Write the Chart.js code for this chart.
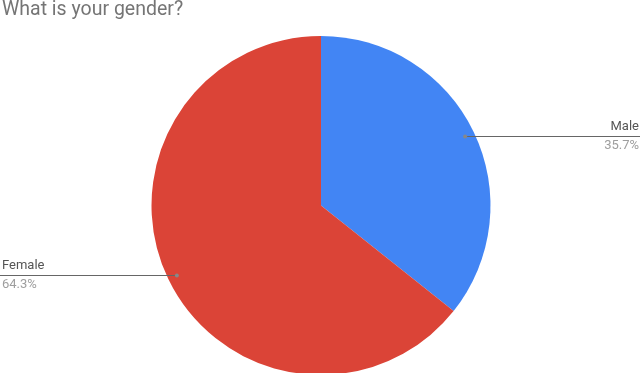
<!DOCTYPE html>
<html>
<head>
<meta charset="utf-8">
<script src="https://cdn.jsdelivr.net/npm/chart.js@4"></script>
<style>
html,body{margin:0;padding:0;background:#fff;overflow:hidden;width:640px;height:373px;}
#wrap{position:absolute;left:0;top:0;width:640px;height:375px;}
</style>
</head>
<body>
<div id="wrap"><canvas id="c" width="640" height="375"></canvas></div>
<script>
const title = "What is your gender?";
const categories = ["Male", "Female"];
const percentages = [35.7, 64.3];
const sliceColors = ["#4285f4", "#db4437"];
const labelSides = ["right", "left"];

const outerLabels = {
  id: 'outerLabels',
  afterDatasetsDraw(chart) {
    const ctx = chart.ctx;
    const meta = chart.getDatasetMeta(0);
    meta.data.forEach((arc, i) => {
      const mid = (arc.startAngle + arc.endAngle) / 2;
      const r = arc.outerRadius - 9.5;
      const ax = arc.x + Math.cos(mid) * r;
      const ay = arc.y + Math.sin(mid) * r;
      const side = labelSides[i];
      const ex = side === 'right' ? chart.width : 0;
      ctx.save();
      ctx.strokeStyle = '#666666';
      ctx.lineWidth = 1;
      ctx.beginPath();
      ctx.moveTo(ax, Math.round(ay) + 0.5);
      ctx.lineTo(ex, Math.round(ay) + 0.5);
      ctx.stroke();
      ctx.fillStyle = '#888888';
      ctx.beginPath();
      ctx.arc(ax, Math.round(ay) + 0.5, 2, 0, Math.PI * 2);
      ctx.fill();
      ctx.font = '13px Roboto';
      ctx.textBaseline = 'middle';
      ctx.textAlign = side === 'right' ? 'right' : 'left';
      const tx = side === 'right' ? chart.width - 1 : 2;
      ctx.fillStyle = '#555555';
      ctx.fillText(categories[i], tx, Math.round(ay) - 9);
      ctx.fillStyle = '#9e9e9e';
      ctx.fillText(percentages[i].toFixed(1) + '%', tx, Math.round(ay) + 10);
      ctx.restore();
    });
  }
};

new Chart(document.getElementById('c'), {
  type: 'pie',
  data: {
    labels: categories,
    datasets: [{
      data: percentages,
      backgroundColor: sliceColors,
      borderWidth: 0
    }]
  },
  options: {
    responsive: false,
    animation: false,
    layout: { padding: { left: 2, right: 0, top: 0, bottom: 0 } },
    plugins: {
      legend: { display: false },
      tooltip: { enabled: false },
      title: {
        display: true,
        text: title,
        align: 'start',
        color: '#757575',
        font: { family: 'Roboto', size: 19.5, weight: 'normal', lineHeight: 1 },
        padding: { top: 0, bottom: 16.5 }
      }
    }
  },
  plugins: [outerLabels]
});
</script>
</body>
</html>
